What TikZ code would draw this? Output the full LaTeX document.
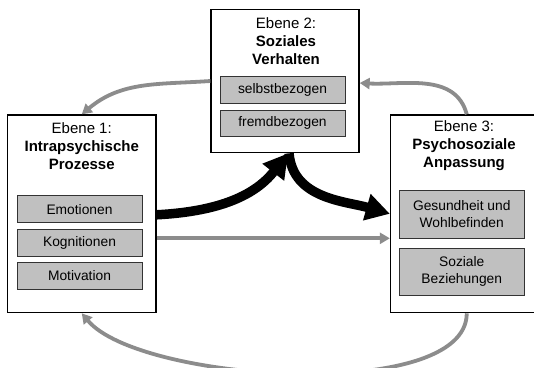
\documentclass[tikz,border=0pt]{standalone}
\usepackage{fontspec}
\setmainfont{Liberation Sans}
\usepackage{xcolor}
\usepackage{tikz}
\usetikzlibrary{arrows.meta}

\definecolor{feldgrau}{RGB}{192,192,192}
\definecolor{pfeilgrau}{RGB}{140,140,140}

\begin{document}
\begin{tikzpicture}[x=1pt,y=-1pt,
  ebene/.style={draw=black,line width=1.3pt,fill=white,inner sep=0pt},
  titel/.style={align=center,inner sep=0pt,font=\fontsize{15}{18}\selectfont},
  feld/.style={draw=black!80,line width=0.9pt,fill=feldgrau,inner sep=0pt,
    minimum width=125,align=center,font=\fontsize{13.8}{17}\selectfont},
  grau/.style={draw=pfeilgrau,line width=3.8pt,-{Triangle[length=10pt,width=11pt]}},
  schwarz/.style={draw=black,line width=9.5pt,-{Triangle[length=24pt,width=26pt]}}]

\useasboundingbox (0,0) rectangle (534,367);

% Ebene 1
\node[ebene,minimum width=148.5,minimum height=197.7] (box1) at (81.75,213.8) {};
\node[titel] (t1) at (81.75,146) {Ebene 1:\\\textbf{Intrapsychische}\\\textbf{Prozesse}};
\node[feld,minimum height=27] (emo) at (79.5,209.2) {Emotionen};
\node[feld,minimum height=27] (kog) at (79.5,242.5) {Kognitionen};
\node[feld,minimum height=27] (mot) at (79.5,276) {Motivation};

% Ebene 2
\node[ebene,minimum width=148,minimum height=143.4] (box2) at (285,81) {};
\node[titel] (t2) at (286,41.3) {Ebene 2:\\\textbf{Soziales}\\\textbf{Verhalten}};
\node[feld,minimum height=26.6] (selbst) at (282.5,90) {selbstbezogen};
\node[feld,minimum height=26.6] (fremd) at (282.5,123.3) {fremdbezogen};

% Ebene 3
\node[ebene,minimum width=144.5,minimum height=197.7] (box3) at (462.75,213.8) {};
\node[titel] (t3) at (464,146) {Ebene 3:\\\textbf{Psychosoziale}\\\textbf{Anpassung}};
\node[feld,minimum height=47.6,minimum width=124.5] (ges) at (461.75,214.5) {Gesundheit und\\Wohlbefinden};
\node[feld,minimum height=46.7,minimum width=124.5] (soz) at (461.75,271.7) {Soziale\\Beziehungen};

% Rueckkopplungen
\draw[grau] (box2.west) to[out=184,in=40] (box1.north);
\draw[grau] ([xshift=4pt]box3.north) to[out=105,in=-3] ([yshift=-2pt]box2.east);
\draw[grau] ([xshift=4pt]box3.south) to[out=-90,in=-50,looseness=0.6] (box1.south);
\draw[grau] ([yshift=-24.5pt]box1.east) -- ([yshift=-24.5pt]box3.west);

% Hauptpfade
\draw[schwarz] ([yshift=-1pt]box1.east) to[out=3,in=232] ([xshift=3pt]box2.south);
\draw[schwarz] ([xshift=4pt]box2.south) to[out=-85,in=164] (box3.west);

\end{tikzpicture}
\end{document}
